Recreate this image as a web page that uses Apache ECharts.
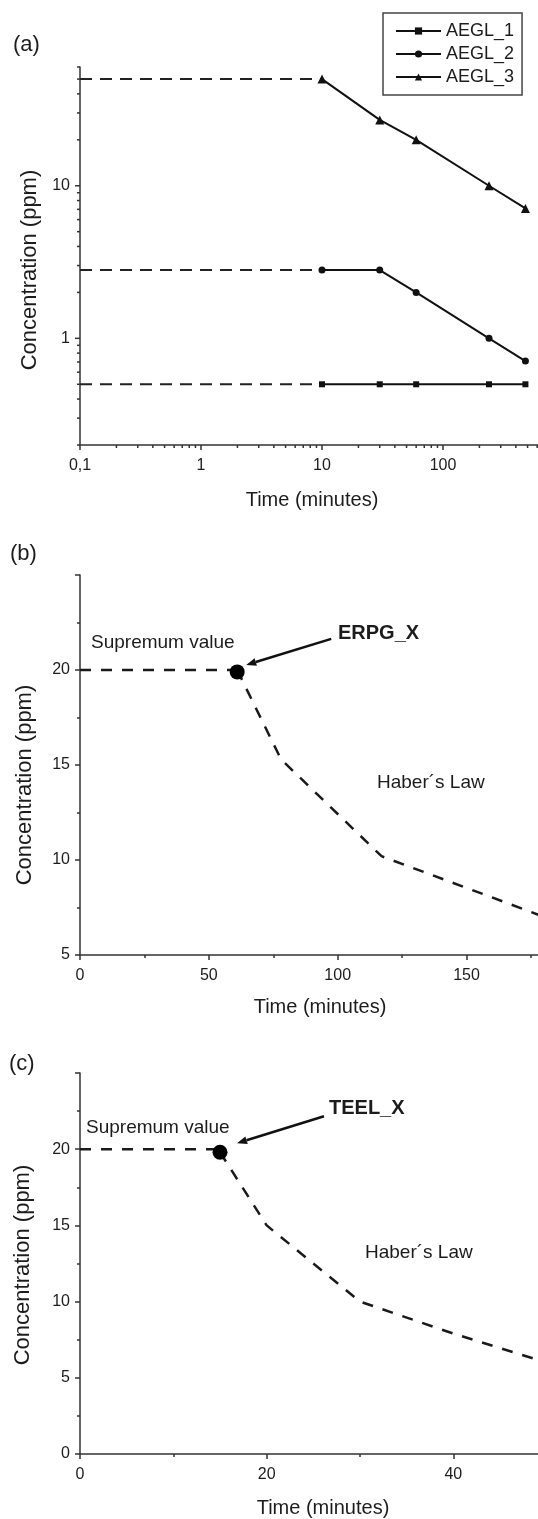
<!DOCTYPE html>
<html>
<head>
<meta charset="utf-8">
<script src="https://cdn.jsdelivr.net/npm/echarts@6/dist/echarts.min.js"></script>
<style>
  html, body { margin: 0; padding: 0; background: #ffffff; }
  #chart { width: 538px; height: 1519px; }
</style>
</head>
<body>
<div id="chart"></div>
<script>
// ---------- Panel (a): AEGL levels against exposure time (log-log) ----------
const aeglTimes = [10, 30, 60, 240, 480];
const aegl1 = [0.5, 0.5, 0.5, 0.5, 0.5];
const aegl2 = [2.8, 2.8, 2.0, 1.0, 0.71];
const aegl3 = [50, 27, 20, 10, 7.1];
const aeglNames = ['AEGL_1', 'AEGL_2', 'AEGL_3'];
const aeglSupremumFrom = 0.1;   // dashed supremum lines start at the left end of the time axis

// tick values for the two log axes
const aXMajorTicks = [0.1, 1, 10, 100];
const aXMinorTicks = [0.2, 0.3, 0.4, 0.5, 0.6, 0.7, 0.8, 0.9,
                      2, 3, 4, 5, 6, 7, 8, 9,
                      20, 30, 40, 50, 60, 70, 80, 90,
                      200, 300, 400, 500, 600];
const aYMajorTicks = [1, 10];
const aYMinorTicks = [0.2, 0.3, 0.4, 0.5, 0.6, 0.7, 0.8, 0.9,
                      2, 3, 4, 5, 6, 7, 8, 9,
                      20, 30, 40, 50, 60];
const aXRange = [0.1, 1000];
const aYRange = [0.2, 60];

// ---------- Panel (b): ERPG ----------
const erpgSupremum = [[0, 20], [61, 20]];
const erpgPoint = [61, 19.9];
const erpgHaber = [[61, 20], [78, 15.3], [117, 10.2], [200, 6.0]];

// ---------- Panel (c): TEEL ----------
const teelSupremum = [[0, 20], [15, 20]];
const teelPoint = [15, 19.8];
const teelHaber = [[15, 19.8], [20, 15], [30, 10], [40, 7.9], [50, 6.0]];

const FONT = '"Liberation Sans", Arial, Helvetica, sans-serif';
const INK = '#1c1c1c';
const AXIS = '#333333';

const chart = echarts.init(document.getElementById('chart'), null, { renderer: 'canvas' });

function fmtLog(v) {
  const s = +Number(v).toPrecision(6);
  if (s >= 1000) return '';
  return String(s).replace('.', ',');
}

// short tick strokes on a log axis, placed through the axis scale
function logTickSeries(gridIndex, values, dir, len) {
  return {
    type: 'custom',
    xAxisIndex: gridIndex,
    yAxisIndex: gridIndex,
    silent: true,
    clip: false,
    z: 4,
    data: values.map(v => dir === 'x' ? [v, aYRange[0]] : [aXRange[0], v]),
    renderItem: function (params, api) {
      const p = api.coord([api.value(0), api.value(1)]);
      const shape = dir === 'x'
        ? { x1: p[0], y1: p[1], x2: p[0], y2: p[1] + len }
        : { x1: p[0] - len, y1: p[1], x2: p[0], y2: p[1] };
      return { type: 'line', shape: shape, style: { stroke: AXIS, lineWidth: 1.5 } };
    }
  };
}

const axisLine = { show: true, onZero: false, lineStyle: { color: AXIS, width: 1.5 } };
const labelStyle = { color: INK, fontSize: 16, fontFamily: FONT };
const gridBase = { containLabel: false, outerBoundsMode: 'none' };

const option = {
  animation: false,
  backgroundColor: '#ffffff',
  grid: [
    Object.assign({ left: 80, top: 67, width: 484, height: 378 }, gridBase),
    Object.assign({ left: 80, top: 575, width: 515.4, height: 380 }, gridBase),
    Object.assign({ left: 80, top: 1073, width: 560, height: 381 }, gridBase)
  ],
  legend: {
    data: aeglNames,
    orient: 'vertical',
    left: 383,
    top: 13,
    itemWidth: 45,
    itemHeight: 9,
    itemGap: 5,
    padding: [9, 8, 9, 12],
    borderColor: '#444',
    borderWidth: 1.5,
    textStyle: { color: INK, fontSize: 18, fontFamily: FONT }
  },
  xAxis: [
    {
      gridIndex: 0, type: 'log', logBase: 10, min: aXRange[0], max: aXRange[1],
      axisLine: axisLine, axisTick: { show: false }, splitLine: { show: false },
      axisLabel: Object.assign({ margin: 13, formatter: fmtLog }, labelStyle)
    },
    {
      gridIndex: 1, type: 'value', min: 0, max: 200, interval: 50,
      axisLine: axisLine, splitLine: { show: false },
      axisTick: { show: true, inside: false, length: 5, lineStyle: { color: AXIS, width: 1.5 } },
      minorTick: { show: true, splitNumber: 2, length: 3, lineStyle: { color: AXIS, width: 1.5 } },
      axisLabel: Object.assign({ margin: 13 }, labelStyle)
    },
    {
      gridIndex: 2, type: 'value', min: 0, max: 60, interval: 20,
      axisLine: axisLine, splitLine: { show: false },
      axisTick: { show: true, inside: false, length: 5, lineStyle: { color: AXIS, width: 1.5 } },
      minorTick: { show: true, splitNumber: 2, length: 3, lineStyle: { color: AXIS, width: 1.5 } },
      axisLabel: Object.assign({ margin: 13 }, labelStyle)
    }
  ],
  yAxis: [
    {
      gridIndex: 0, type: 'log', logBase: 10, min: aYRange[0], max: aYRange[1],
      axisLine: axisLine, axisTick: { show: false }, splitLine: { show: false },
      axisLabel: Object.assign({
        margin: 10,
        formatter: function (v) {
          const s = +Number(v).toPrecision(6);
          return aYMajorTicks.indexOf(s) >= 0 ? String(s) : '';
        }
      }, labelStyle)
    },
    {
      gridIndex: 1, type: 'value', min: 5, max: 25, interval: 5,
      axisLine: axisLine, splitLine: { show: false },
      axisTick: { show: true, inside: false, length: 5, lineStyle: { color: AXIS, width: 1.5 } },
      minorTick: { show: true, splitNumber: 2, length: 3, lineStyle: { color: AXIS, width: 1.5 } },
      axisLabel: Object.assign({ margin: 10, showMaxLabel: false }, labelStyle)
    },
    {
      gridIndex: 2, type: 'value', min: 0, max: 25, interval: 5,
      axisLine: axisLine, splitLine: { show: false },
      axisTick: { show: true, inside: false, length: 5, lineStyle: { color: AXIS, width: 1.5 } },
      minorTick: { show: true, splitNumber: 2, length: 3, lineStyle: { color: AXIS, width: 1.5 } },
      axisLabel: Object.assign({ margin: 10, showMaxLabel: false }, labelStyle)
    }
  ],
  series: []
};

// panel (a) guideline series
const aeglSets = [aegl1, aegl2, aegl3];
const aeglSymbols = ['rect', 'circle', 'triangle'];
const aeglSymbolSizes = [6, 7, 9];
aeglSets.forEach(function (vals, i) {
  option.series.push({
    name: aeglNames[i],
    type: 'line',
    xAxisIndex: 0, yAxisIndex: 0,
    data: aeglTimes.map((t, k) => [t, vals[k]]),
    symbol: aeglSymbols[i],
    symbolSize: aeglSymbolSizes[i],
    showSymbol: true,
    lineStyle: { color: '#111', width: 2 },
    itemStyle: { color: '#111', opacity: 1 },
    z: 3
  });
  // dashed supremum extension back to the start of the axis
  option.series.push({
    name: aeglNames[i] + ' supremum',
    type: 'line',
    xAxisIndex: 0, yAxisIndex: 0,
    data: [[aeglSupremumFrom, vals[0]], [aeglTimes[0], vals[0]]],
    symbol: 'none',
    lineStyle: { color: '#222', width: 2, type: [12, 8] },
    z: 2
  });
});

// log-axis ticks for panel (a)
option.series.push(logTickSeries(0, aXMajorTicks, 'x', 5));
option.series.push(logTickSeries(0, aXMinorTicks, 'x', 3));
option.series.push(logTickSeries(0, aYMajorTicks, 'y', 5));
option.series.push(logTickSeries(0, aYMinorTicks, 'y', 3));

// panels (b) and (c): supremum line, guideline point, Haber's law decay
function addPanel(gridIndex, sup, pt, haber, tag) {
  const dash = { color: '#1a1a1a', width: 2.5, type: [11, 10] };
  option.series.push({
    name: tag + ' supremum', type: 'line', xAxisIndex: gridIndex, yAxisIndex: gridIndex,
    data: sup, symbol: 'none', lineStyle: dash, z: 2
  });
  option.series.push({
    name: tag + ' haber', type: 'line', xAxisIndex: gridIndex, yAxisIndex: gridIndex,
    data: haber, symbol: 'none', lineStyle: dash, z: 2
  });
  option.series.push({
    name: tag, type: 'scatter', xAxisIndex: gridIndex, yAxisIndex: gridIndex,
    data: [pt], symbol: 'circle', symbolSize: 15,
    itemStyle: { color: '#000', opacity: 1 }, z: 5
  });
}
addPanel(1, erpgSupremum, erpgPoint, erpgHaber, 'ERPG_X');
addPanel(2, teelSupremum, teelPoint, teelHaber, 'TEEL_X');

chart.setOption(option);

// ---------- text and arrows ----------
function txt(text, x, y, size, opts) {
  opts = opts || {};
  return {
    type: 'text', x: x, y: y, rotation: opts.rotation || 0, z: 10,
    style: {
      text: text, fill: INK, fontSize: size, fontFamily: FONT,
      fontWeight: opts.bold ? 'bold' : 'normal',
      textAlign: opts.align || 'left', textVerticalAlign: 'middle'
    }
  };
}
function arrow(x1, y1, x2, y2) {
  const ang = Math.atan2(y2 - y1, x2 - x1);
  const L = 10, W = 4;
  const bx = x2 - L * Math.cos(ang), by = y2 - L * Math.sin(ang);
  const nx = -Math.sin(ang) * W, ny = Math.cos(ang) * W;
  return {
    type: 'group', z: 10,
    children: [
      { type: 'line', shape: { x1: x1, y1: y1, x2: bx, y2: by }, style: { stroke: '#111', lineWidth: 2.5 } },
      { type: 'polygon', shape: { points: [[x2, y2], [bx + nx, by + ny], [bx - nx, by - ny]] }, style: { fill: '#111' } }
    ]
  };
}

const pB = chart.convertToPixel({ gridIndex: 1 }, erpgPoint);
const pC = chart.convertToPixel({ gridIndex: 2 }, teelPoint);

chart.setOption({
  graphic: [
    // panel (a)
    txt('(a)', 13, 45, 22),
    txt('Time (minutes)', 312, 500, 20, { align: 'center' }),
    txt('Concentration (ppm)', 30, 270, 22, { align: 'center', rotation: Math.PI / 2 }),
    // panel (b)
    txt('(b)', 10, 554, 22),
    txt('Time (minutes)', 320, 1007, 20, { align: 'center' }),
    txt('Concentration (ppm)', 25, 785, 22, { align: 'center', rotation: Math.PI / 2 }),
    txt('Supremum value', 91, 643, 19),
    txt('ERPG_X', 338, 633, 20, { bold: true }),
    txt('Haber\u00b4s Law', 377, 783, 19),
    arrow(pB[0] + 94, pB[1] - 33, pB[0] + 9, pB[1] - 7),
    // panel (c)
    txt('(c)', 9, 1064, 22),
    txt('Time (minutes)', 323, 1508, 20, { align: 'center' }),
    txt('Concentration (ppm)', 23, 1265, 22, { align: 'center', rotation: Math.PI / 2 }),
    txt('Supremum value', 86, 1128, 19),
    txt('TEEL_X', 329, 1108, 20, { bold: true }),
    txt('Haber\u00b4s Law', 365, 1253, 19),
    arrow(pC[0] + 104, pC[1] - 36, pC[0] + 17, pC[1] - 9)
  ]
});
</script>
</body>
</html>
